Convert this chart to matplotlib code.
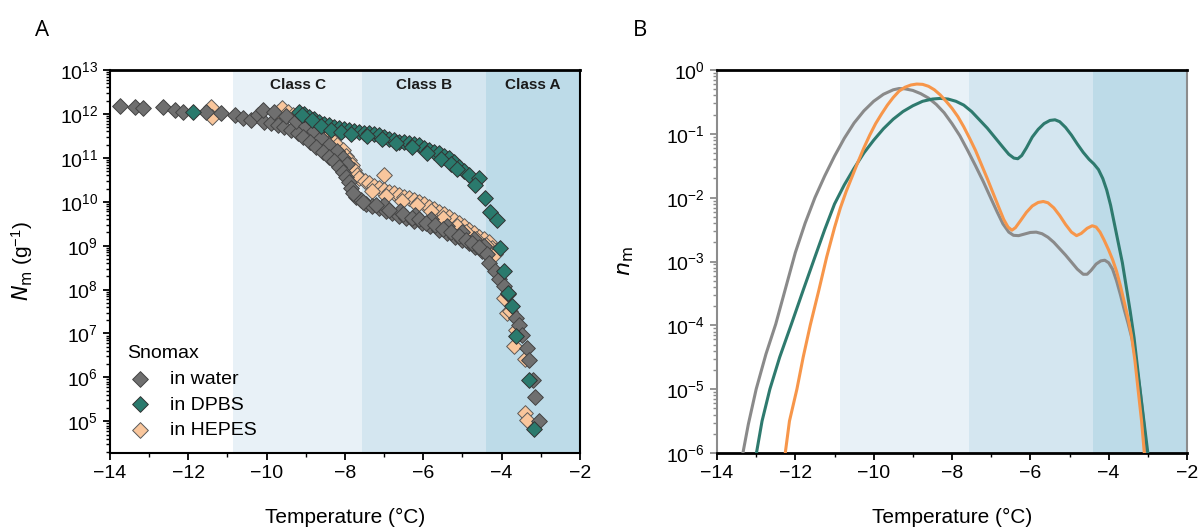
import numpy as np
import matplotlib
matplotlib.use("Agg")
import matplotlib.pyplot as plt
from matplotlib.ticker import LogLocator, MultipleLocator, NullFormatter

plt.rcParams['font.family'] = ['Liberation Sans', 'DejaVu Sans']
plt.rcParams['mathtext.default'] = 'regular'

# ---------------- Panel A data (Temperature in degC, log10 N_m in g^-1) ----------------
water_T = [-13.75, -13.36, -13.15, -12.64, -12.35, -12.13, -11.54, -11.16, -10.82, -10.61,
           -10.39, -10.23, -10.06, -9.89, -9.72, -9.55, -9.38, -9.21, -10.1, -9.8, -9.5,
           -9.25, -9.0, -8.8, -8.6, -8.4, -8.2, -8.05, -7.95,
           -9.08, -8.9, -8.74, -8.57, -8.40, -8.27, -8.15, -8.05, -7.98, -7.90, -7.85,
           -7.72, -7.6, -7.47, -7.3, -7.13, -6.96, -6.79, -6.62, -6.45, -6.24, -6.03,
           -5.82, -5.60, -5.4, -5.18, -5.0, -4.84, -4.67, -4.50, -7.0, -6.6, -6.2, -5.8,
           -5.4, -5.0, -4.7, -4.45, -7.8, -7.55, -7.2, -6.88, -6.52, -6.3, -6.12, -5.92,
           -5.7, -5.5, -5.3, -5.1, -4.92, -4.76, -4.58, -4.38,
           -4.32, -4.18, -4.08, -3.93, -3.83, -3.64, -3.57,
           -3.49, -3.35, -3.31, -3.2, -3.15, -3.05]
water_logN = [12.18, 12.16, 12.13, 12.15, 12.10, 12.05, 12.05, 12.03, 11.97, 11.90,
              11.86, 11.97, 11.82, 11.79, 11.75, 11.71, 11.63, 11.56, 12.1, 12.05, 11.95,
              11.85, 11.72, 11.6, 11.45, 11.3, 11.15, 11.0, 10.85,
              11.48, 11.37, 11.25, 11.14, 11.03, 10.92, 10.80, 10.68, 10.57, 10.45, 10.31,
              10.11, 10.03, 9.96, 9.9, 9.85, 9.8, 9.74, 9.68, 9.62, 9.56, 9.51,
              9.44, 9.36, 9.28, 9.20, 9.12, 9.05, 8.97, 8.88, 9.92, 9.8, 9.7, 9.6,
              9.45, 9.3, 9.15, 9.0, 10.2, 10.0, 9.93, 9.82, 9.72, 9.63, 9.6, 9.52,
              9.46, 9.38, 9.3, 9.22, 9.13, 9.05, 8.98, 8.80,
              8.61, 8.42, 8.23, 8.08, 7.89, 7.35, 7.19,
              6.97, 6.67, 6.39, 5.95, 5.55, 5.0]

dpbs_T = [-11.88, -9.17, -9.05, -8.91, -8.78, -8.66, -8.53, -8.40, -8.27, -8.15, -8.02,
          -7.89, -7.76, -7.64, -7.51, -7.38, -7.25, -7.13, -7.0, -6.88, -6.75, -6.62,
          -6.5, -6.37, -6.24, -6.11, -5.98, -5.86, -5.73, -5.60, -5.47, -5.35, -5.22,
          -5.09, -4.96, -4.84, -4.59, -4.67, -4.42, -4.29, -4.12,
          -9.1, -8.85, -8.6, -8.35, -8.1, -7.85, -7.45, -7.05, -6.7, -6.3, -5.9, -5.55,
          -5.3, -5.15,
          -4.03, -3.93, -3.83, -3.74, -3.64, -3.30, -3.17]
dpbs_logN = [12.05, 12.05, 12.0, 11.94, 11.88, 11.82, 11.78, 11.75, 11.70, 11.67, 11.65,
             11.63, 11.60, 11.59, 11.57, 11.56, 11.54, 11.52, 11.48, 11.44, 11.40, 11.37,
             11.35, 11.33, 11.31, 11.29, 11.23, 11.18, 11.14, 11.10, 11.05, 10.99, 10.90,
             10.80, 10.70, 10.61, 10.53, 10.38, 10.08, 9.77, 9.58,
             11.98, 11.86, 11.72, 11.64, 11.58, 11.55, 11.5, 11.43, 11.33, 11.24, 11.12, 10.98,
             10.85, 10.74,
             8.95, 8.42, 7.92, 7.62, 6.94, 5.95, 4.83]

hepes_T = [-11.41, -11.40, -9.72, -9.61, -9.45, -9.34, -9.2, -9.08, -8.95, -8.83, -8.7,
           -8.57, -8.45, -8.32, -8.2, -8.06, -7.97, -7.89, -7.83, -7.77, -7.7, -7.64,
           -7.5, -7.38, -7.25, -7.13, -7.0, -7.0, -6.88, -6.75, -6.62, -6.5, -6.37,
           -6.24, -6.11, -5.98, -5.86, -5.73, -5.60, -5.47, -5.35, -5.22, -5.09, -4.96,
           -4.84, -4.71, -4.59, -4.46, -4.33, -4.25, -4.16,
           -7.3, -6.95, -6.55, -6.15, -5.8, -5.5, -5.15, -4.9, -4.65, -4.4,
           -3.93, -3.86, -3.78, -3.64, -3.69, -3.40, -3.40, -3.35]
hepes_logN = [12.16, 11.94, 12.05, 12.13, 12.05, 11.97, 11.9, 11.82, 11.77, 11.71, 11.63,
              11.56, 11.48, 11.41, 11.3, 11.18, 11.05, 10.95, 10.83, 10.72, 10.62, 10.53,
              10.47, 10.42, 10.36, 10.31, 10.61, 10.27, 10.23, 10.19, 10.15, 10.11, 10.08,
              10.04, 10.0, 9.95, 9.89, 9.83, 9.77, 9.72, 9.66, 9.58, 9.51, 9.44,
              9.36, 9.28, 9.20, 9.15, 9.09, 8.95, 8.82,
              10.25, 10.12, 10.02, 9.93, 9.8, 9.64, 9.45, 9.3, 9.15, 9.02,
              7.81, 7.46, 7.51, 7.09, 6.71, 6.41, 5.19, 5.03]

series_labels = ['in water', 'in DPBS', 'in HEPES']

# ---------------- Panel B data (Temperature, log10 n_m) ----------------
b_water_T = [-13.40, -13.2, -13.0, -12.75, -12.5, -12.25, -12.0, -11.75, -11.5, -11.25,
             -11.0, -10.75, -10.5, -10.25, -10.0, -9.75, -9.5, -9.35, -9.2, -9.0, -8.8,
             -8.6, -8.4, -8.2, -8.0, -7.8, -7.6, -7.4, -7.2, -7.0, -6.85, -6.7, -6.55,
             -6.43, -6.3, -6.15, -6.0, -5.85, -5.7, -5.55, -5.4, -5.25, -5.1, -4.95,
             -4.8, -4.65, -4.55, -4.45, -4.32, -4.2, -4.1, -4.0, -3.9, -3.8, -3.7,
             -3.6, -3.5, -3.4, -3.3, -3.2, -3.1, -3.03, -2.98]
b_water_log = [-6.2, -5.55, -5.0, -4.45, -3.98, -3.42, -2.86, -2.40, -2.00, -1.66,
               -1.35, -1.07, -0.83, -0.64, -0.49, -0.38, -0.31, -0.29, -0.295, -0.32, -0.37,
               -0.44, -0.54, -0.67, -0.84, -1.03, -1.26, -1.50, -1.75, -2.02, -2.22, -2.41, -2.54,
               -2.59, -2.595, -2.57, -2.545, -2.54, -2.565, -2.62, -2.70, -2.80, -2.90, -3.01,
               -3.12, -3.20, -3.20, -3.14, -3.04, -2.99, -2.98, -3.02, -3.12, -3.30, -3.52,
               -3.76, -3.98, -4.22, -4.58, -5.0, -5.55, -6.0, -6.3]

b_dpbs_T = [-13.05, -12.85, -12.65, -12.4, -12.1, -11.8, -11.5, -11.25, -11.0, -10.75,
            -10.5, -10.25, -10.0, -9.75, -9.5, -9.25, -9.0, -8.75, -8.5, -8.3, -8.1,
            -7.9, -7.7, -7.5, -7.3, -7.1, -6.9, -6.7, -6.55, -6.42, -6.32, -6.22, -6.1,
            -5.95, -5.8, -5.65, -5.5, -5.37, -5.25, -5.1, -4.95, -4.8, -4.65, -4.5,
            -4.38, -4.26, -4.15, -4.05, -3.95, -3.85, -3.75, -3.65, -3.55, -3.45, -3.35,
            -3.2, -3.1, -3.0, -2.96]
b_dpbs_log = [-6.2, -5.5, -5.0, -4.5, -3.98, -3.45, -2.93, -2.50, -2.10, -1.80,
              -1.54, -1.30, -1.10, -0.92, -0.77, -0.65, -0.56, -0.49, -0.455, -0.445, -0.455,
              -0.49, -0.55, -0.65, -0.78, -0.91, -1.06, -1.21, -1.32, -1.38, -1.39, -1.34, -1.22,
              -1.05, -0.93, -0.84, -0.79, -0.78, -0.81, -0.90, -1.02, -1.16, -1.29, -1.40,
              -1.47, -1.56, -1.70, -1.88, -2.12, -2.42, -2.72, -3.02, -3.40, -3.78, -4.2,
              -5.0, -5.5, -6.0, -6.2]

b_hepes_T = [-12.30, -12.15, -11.96, -11.8, -11.62, -11.4, -11.2, -11.0, -10.85, -10.7,
             -10.55, -10.4, -10.25, -10.1, -9.95, -9.8, -9.65, -9.5, -9.35, -9.2, -9.05,
             -8.9, -8.75, -8.6, -8.45, -8.3, -8.15, -8.0, -7.85, -7.7, -7.55, -7.4, -7.25,
             -7.1, -6.95, -6.8, -6.68, -6.57, -6.47, -6.38, -6.25, -6.1, -5.95, -5.8,
             -5.67, -5.55, -5.4, -5.25, -5.1, -4.95, -4.82, -4.7, -4.55, -4.42, -4.32,
             -4.22, -4.12, -4.0, -3.9, -3.8, -3.7, -3.6, -3.5, -3.42, -3.33, -3.25,
             -3.16, -3.09, -3.05]
b_hepes_log = [-6.2, -5.5, -5.0, -4.5, -4.0, -3.45, -2.93, -2.47, -2.16, -1.90,
               -1.67, -1.44, -1.22, -1.02, -0.84, -0.69, -0.55, -0.43, -0.33, -0.27, -0.235,
               -0.22, -0.225, -0.255, -0.31, -0.39, -0.49, -0.60, -0.73, -0.89, -1.07, -1.26, -1.48,
               -1.70, -1.93, -2.16, -2.34, -2.46, -2.51, -2.47, -2.36, -2.23, -2.13, -2.075,
               -2.06, -2.08, -2.16, -2.28, -2.42, -2.54, -2.595, -2.56, -2.48, -2.44, -2.46,
               -2.54, -2.66, -2.82, -2.97, -3.15, -3.38, -3.64, -3.90, -4.15, -4.55, -5.0,
               -5.5, -6.0, -6.3]

class_names = ['Class C', 'Class B', 'Class A']
class_edges = [-10.85, -7.57, -4.4, -2.0]
class_colors = ['#e8f1f7', '#d4e6f0', '#bddbe8']

# ---------------- styling ----------------
c_water = '#6f6f6f'
c_dpbs = '#2a7a6d'
c_hepes = '#f9c69c'
line_water = '#8a8a8a'
line_dpbs = '#2e7a6e'
line_hepes = '#f7964a'

fig = plt.figure(figsize=(12.04, 5.30), dpi=100)
axA = fig.add_axes([110/1204, 1-453/530, 470/1204, 383/530])
axB = fig.add_axes([717/1204, 1-453/530, 470/1204, 383/530])

for ax in (axA, axB):
    for i, name in enumerate(class_names):
        ax.axvspan(class_edges[i], class_edges[i+1], color=class_colors[i], lw=0, zorder=0)
    ax.set_xlim(-14, -2)
    ax.set_yscale('log')
    ax.xaxis.set_major_locator(MultipleLocator(2))
    ax.xaxis.set_minor_locator(MultipleLocator(1))
    ax.tick_params(axis='both', which='major', direction='out', length=5, width=1.3,
                   labelsize=14, top=False, right=False)
    ax.tick_params(axis='both', which='minor', direction='out', length=3, width=1.0,
                   top=False, right=False)
    ax.set_xlabel('Temperature (°C)', fontsize=15, labelpad=19)

# Panel A
ms = 8
axA.scatter(hepes_T, 10**np.array(hepes_logN), marker='D', s=ms**2, c=c_hepes,
            edgecolors='#5a5a5a', linewidths=0.7, zorder=3, label=series_labels[2])
axA.scatter(water_T, 10**np.array(water_logN), marker='D', s=ms**2, c=c_water,
            edgecolors='#444444', linewidths=0.7, zorder=4, label=series_labels[0])
axA.scatter(dpbs_T, 10**np.array(dpbs_logN), marker='D', s=ms**2, c=c_dpbs,
            edgecolors='#333333', linewidths=0.7, zorder=5, label=series_labels[1])
axA.set_ylim(1.9e4, 1e13)
axA.yaxis.set_major_locator(LogLocator(base=10, numticks=20))
axA.yaxis.set_minor_locator(LogLocator(base=10, subs=np.arange(2, 10), numticks=100))
axA.yaxis.set_minor_formatter(NullFormatter())
for s in axA.spines.values():
    s.set_linewidth(1.5)
    s.set_color('black')
axA.spines['top'].set_linewidth(2)
axA.set_ylabel('$\\mathit{N}_\\mathrm{m}$ (g$^{-1}$)', fontsize=15, labelpad=18)
for i, name in enumerate(class_names):
    axA.text((class_edges[i] + class_edges[i+1]) / 2, 0.96, name, transform=axA.get_xaxis_transform(),
             ha='center', va='center', fontsize=11, fontweight='bold', color='#1a1a1a', zorder=6)
handles, labels = axA.get_legend_handles_labels()
order = [labels.index(l) for l in series_labels]
leg = axA.legend([handles[i] for i in order], [labels[i] for i in order], title='Snomax',
                 loc='lower left', bbox_to_anchor=(0.0, -0.01), frameon=False, fontsize=14,
                 title_fontsize=14, handlelength=1.3, handletextpad=0.9, labelspacing=0.42,
                 borderaxespad=0.5)
leg._legend_box.align = 'left'

# Panel B
axB.plot(b_water_T, 10**np.array(b_water_log), color=line_water, lw=2.2, zorder=3)
axB.plot(b_dpbs_T, 10**np.array(b_dpbs_log), color=line_dpbs, lw=2.2, zorder=4)
axB.plot(b_hepes_T, 10**np.array(b_hepes_log), color=line_hepes, lw=2.2, zorder=5)
axB.set_ylim(1e-6, 1)
axB.yaxis.set_major_locator(LogLocator(base=10, numticks=20))
axB.yaxis.set_minor_locator(LogLocator(base=10, subs=np.arange(2, 10), numticks=100))
axB.yaxis.set_minor_formatter(NullFormatter())
axB.spines['left'].set_color('#8c8c8c')
axB.spines['right'].set_color('#8c8c8c')
axB.spines['left'].set_linewidth(1.5)
axB.spines['right'].set_linewidth(1.5)
axB.spines['top'].set_color('black')
axB.spines['top'].set_linewidth(2)
axB.spines['bottom'].set_color('black')
axB.spines['bottom'].set_linewidth(2)
axB.tick_params(axis='y', which='both', color='#8c8c8c')
axB.set_ylabel('$\\mathit{n}_\\mathrm{m}$', fontsize=16, labelpad=22)

fig.text(42/1204, 1-30/530, 'A', fontsize=16, family=['Open Sans', 'DejaVu Sans'], va='center', ha='center')
fig.text(640/1204, 1-30/530, 'B', fontsize=16, family=['Open Sans', 'DejaVu Sans'], va='center', ha='center')

fig.savefig('out.png', dpi=100)
